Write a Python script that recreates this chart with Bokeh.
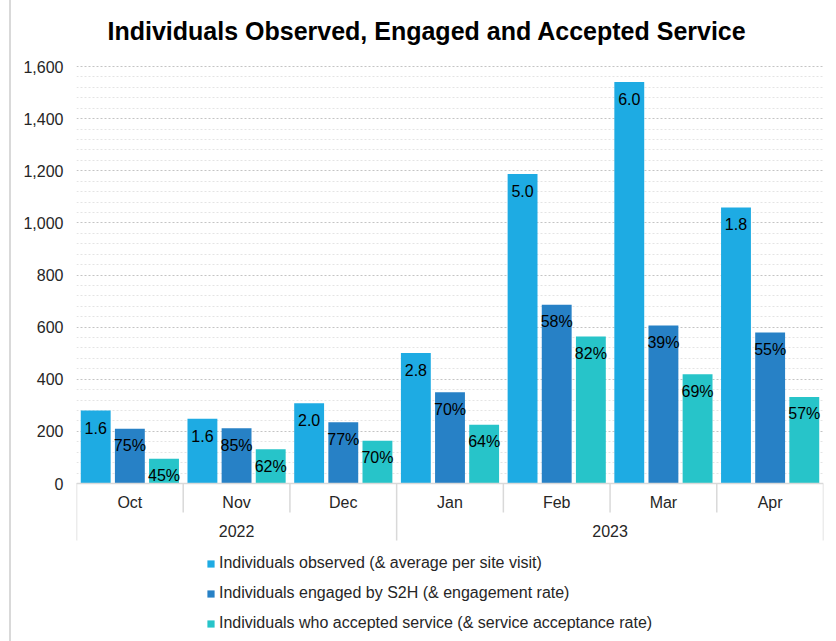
from bokeh.plotting import figure
from bokeh.models import (ColumnDataSource, FactorRange, Range1d, FixedTicker,
                          NumeralTickFormatter, Legend, LegendItem, Label)
from bokeh.transform import dodge
from bokeh.core.properties import value
from bokeh.embed import file_html
from bokeh.resources import INLINE

# ---------------- data ----------------
years = ["2022", "2022", "2022", "2023", "2023", "2023", "2023"]
months = ["Oct", "Nov", "Dec", "Jan", "Feb", "Mar", "Apr"]
observed = [280, 248, 308, 501, 1188, 1541, 1059]
engaged = [210, 212, 235, 350, 686, 606, 579]
accepted = [95, 131, 164, 225, 564, 419, 332]
avg_per_visit = ["1.6", "1.6", "2.0", "2.8", "5.0", "6.0", "1.8"]
engagement_rate = ["75%", "85%", "77%", "70%", "58%", "39%", "55%"]
acceptance_rate = ["45%", "62%", "70%", "64%", "82%", "69%", "57%"]
y_ticks = [0, 200, 400, 600, 800, 1000, 1200, 1400, 1600]
series_names = [
    "Individuals observed (& average per site visit)",
    "Individuals engaged by S2H (& engagement rate)",
    "Individuals who accepted service (& service acceptance rate)",
]
title_text = "Individuals Observed, Engaged and Accepted Service"
subtitle_text = "(October 2022 - April 2023)"

# ---------------- styles ----------------
FONT = "Liberation Sans"
colors = ["#1eabe3", "#2781c6", "#27c4c9"]
GRID_MAJOR = "#c4c4c4"
GRID_MINOR = "#e4e4e4"
AXIS_GREY = "#d9d9d9"
TEXT = "#262626"
PX_PER_UNIT = 417.0 / 1600.0
FIG_W, FIG_H = 825, 641

factors = list(zip(years, months))
src = ColumnDataSource(dict(
    x=factors, observed=observed, engaged=engaged, accepted=accepted,
    avg=avg_per_visit, eng=engagement_rate, acc=acceptance_rate,
))

x_range = FactorRange(*factors, factor_padding=0, group_padding=0,
                      subgroup_padding=0, range_padding=0)
y_range = Range1d(-158 / PX_PER_UNIT, 1600 + 8 / PX_PER_UNIT)

p = figure(width=FIG_W, height=FIG_H, x_range=x_range, y_range=y_range,
           output_backend="svg", toolbar_location=None,
           min_border_left=65, min_border_right=13, min_border_top=58,
           min_border_bottom=0)
p.styles = {"margin-left": "9px", "border-left": "2px solid #d9d9d9"}
p.outline_line_color = None
p.background_fill_color = "white"
p.border_fill_color = "white"

# title
p.title.text = title_text
p.title.text_font = FONT
p.title.text_font_size = "25px"
p.title.text_font_style = "bold"
p.title.text_color = "#000000"
p.title.align = "left"
p.title.offset = 31
p.title.standoff = 27

# first title line, cut off by the top edge as in the original
p.add_layout(Label(x=416, y=2, x_units="canvas", y_units="canvas",
                   text=subtitle_text, text_align="center",
                   text_baseline="alphabetic", text_font=FONT,
                   text_font_size="25px", text_font_style="bold",
                   text_color="#000000"))

# y axis + grid
minor = [v for v in range(0, y_ticks[-1] + 1, 40) if v not in y_ticks]
ya = p.yaxis[0]
ya.ticker = FixedTicker(ticks=y_ticks, minor_ticks=minor)
ya.formatter = NumeralTickFormatter(format="0,0")
ya.axis_line_color = None
ya.major_tick_line_color = None
ya.minor_tick_line_color = None
ya.major_tick_out = 0
ya.major_label_standoff = 9
ya.major_label_text_font = FONT
ya.major_label_text_font_size = "16px"
ya.major_label_text_color = TEXT

p.ygrid.grid_line_color = GRID_MAJOR
p.ygrid.grid_line_dash = "2 2"
p.ygrid.grid_line_width = 1
p.ygrid.minor_grid_line_color = GRID_MINOR
p.ygrid.minor_grid_line_dash = "2 2"
p.xgrid.visible = False

# x axis drawn at y = 0 inside the frame (month labels)
xa = p.xaxis[0]
xa.fixed_location = 0
xa.axis_line_color = AXIS_GREY
xa.axis_line_width = 1.5
xa.major_tick_line_color = None
xa.minor_tick_line_color = None
xa.major_label_standoff = 4
xa.major_label_text_font = FONT
xa.major_label_text_font_size = "16px"
xa.major_label_text_color = TEXT
xa.group_text_color = None
xa.separator_line_color = None

# year labels of the multi-level category axis
year_labels = list(dict.fromkeys(years))
year_centers = [(years.index(y) + len(years) - years[::-1].index(y)) / 2 for y in year_labels]
p.text(x=year_centers, y=[-47 / PX_PER_UNIT] * len(year_labels), text=year_labels,
       text_align="center", text_baseline="middle",
       text_font=value(FONT), text_font_size="16px", text_color=TEXT)

# separators of the multi-level category axis
bounds = list(range(len(factors) + 1))
year_edges = [0, len(factors)] + [i for i in range(1, len(factors)) if years[i] != years[i - 1]]
short_d = 29 / PX_PER_UNIT
long_d = 57 / PX_PER_UNIT
p.segment(x0=bounds, x1=bounds, y0=[0] * len(bounds),
          y1=[-(long_d if b in year_edges else short_d) for b in bounds],
          line_color=AXIS_GREY, line_width=1.5)

# bars and labels
offsets = [-0.32, 0.0, 0.32]
cols = ["observed", "engaged", "accepted"]
labcols = ["avg", "eng", "acc"]
items = []
for name, col, lab, color, off in zip(series_names, cols, labcols, colors, offsets):
    r = p.vbar(x=dodge("x", off, range=x_range), top=col, width=0.28,
               source=src, fill_color=color, line_color=None)
    p.text(x=dodge("x", off, range=x_range), y=col, text=lab, source=src,
           text_align="center", text_baseline="middle", y_offset=17,
           text_font=value(FONT), text_font_size="16px", text_color="#000000")
    items.append(LegendItem(label=name, renderers=[r]))

legend = Legend(items=items, location=(130, 8), orientation="vertical",
                border_line_color=None, background_fill_alpha=0,
                padding=0, margin=0, spacing=10, label_height=20,
                glyph_height=9, glyph_width=9, label_standoff=4,
                label_text_font=FONT, label_text_font_size="16px",
                label_text_color=TEXT)
p.add_layout(legend)

open("out.html", "w").write(file_html(p, INLINE))
